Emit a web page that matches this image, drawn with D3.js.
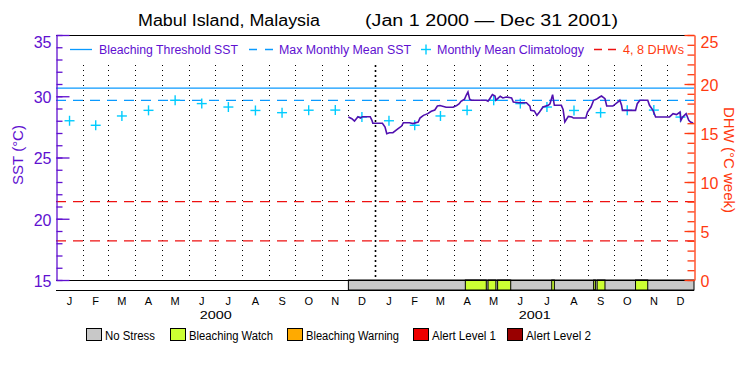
<!DOCTYPE html>
<html>
<head>
<meta charset="utf-8">
<script src="https://cdn.jsdelivr.net/npm/d3@7"></script>
<style>
  body { margin: 0; background: #fff; }
  text { font-family: "Liberation Sans", Arial, sans-serif; }
</style>
</head>
<body>
<svg id="chart" width="750" height="375"></svg>
<script>
// ---- data ----
const monthLabels = ["J","F","M","A","M","J","J","A","S","O","N","D"];
const yearLabels = ["2000","2001"];
const climMonthly = [28.0, 27.63, 28.39, 28.85, 29.67, 29.4, 29.12, 28.84, 28.66, 28.86, 28.87, 28.3];
const bleachThreshold = 30.67;
const maxMonthlyMean = 29.67;
const dhwLevels = [4, 8];
const sstTicks = [15, 20, 25, 30, 35];
const dhwTicks = [0, 5, 10, 15, 20, 25];

const sstDates = [
  "2000-12-01","2000-12-05","2000-12-08","2000-12-12","2000-12-15","2000-12-17","2000-12-26","2000-12-28","2000-12-29",
  "2001-01-09","2001-01-12","2001-01-14","2001-01-17","2001-01-21","2001-01-27","2001-01-31",
  "2001-02-02","2001-02-09","2001-02-13","2001-02-19","2001-02-21","2001-02-25",
  "2001-03-02","2001-03-06","2001-03-10","2001-03-13","2001-03-16","2001-03-23","2001-03-31",
  "2001-04-04","2001-04-07","2001-04-09","2001-04-13","2001-04-15","2001-04-17","2001-04-19","2001-04-21",
  "2001-05-08","2001-05-10","2001-05-12","2001-05-15","2001-05-18","2001-05-19","2001-05-21","2001-05-24","2001-05-27","2001-05-31",
  "2001-06-06","2001-06-08","2001-06-15","2001-06-23","2001-06-27","2001-06-28",
  "2001-07-02","2001-07-05","2001-07-08","2001-07-12","2001-07-18","2001-07-20","2001-07-23","2001-07-25",
  "2001-08-02","2001-08-04","2001-08-06","2001-08-10","2001-08-14","2001-08-16","2001-08-30",
  "2001-09-01","2001-09-05","2001-09-08","2001-09-11","2001-09-15","2001-09-17","2001-09-21","2001-09-23","2001-09-30",
  "2001-10-06","2001-10-08","2001-10-10","2001-10-11","2001-10-26","2001-10-28","2001-10-31",
  "2001-11-09","2001-11-11","2001-11-15","2001-11-18",
  "2001-12-04","2001-12-08","2001-12-12","2001-12-16","2001-12-17","2001-12-19","2001-12-21","2001-12-23","2001-12-26","2001-12-28","2001-12-31"
];
const sstValues = [
  28.31, 28.17, 27.98, 28.33, 28.22, 28.33, 28.33, 28.03, 27.79,
  27.79, 27.49, 26.94, 27.02, 27.02, 27.35, 27.57,
  27.84, 27.84, 27.77, 27.9, 28.22, 28.44,
  28.58, 28.77, 28.88, 29.2, 29.24, 29.1, 29.1,
  29.24, 29.39, 29.59, 29.75, 30.08, 30.35, 29.75, 29.67,
  29.67, 29.59, 29.8, 30.13, 30.02, 29.67, 29.8, 30.0, 29.86, 29.94,
  29.86, 29.53, 29.47, 29.47, 29.2, 28.85,
  28.8, 28.44, 28.71, 29.12, 29.26, 29.39, 30.13, 29.26,
  29.26, 28.93, 27.9, 28.36, 28.31, 28.22, 28.22,
  28.71, 29.12, 29.67, 29.75, 29.94, 30.02, 29.8, 29.2, 29.2,
  29.53, 29.67, 29.26, 28.85, 28.85, 29.39, 29.67,
  29.67, 29.26, 28.85, 28.31,
  28.31, 28.58, 28.5, 28.71, 28.03, 28.3, 28.44, 28.58, 28.03, 27.9, 27.82
];

// stress periods (level 0 = no stress, 1 = bleaching watch)
const stressStart = ["2000-12-01","2001-04-14","2001-05-10","2001-05-21","2001-07-22","2001-09-08","2001-09-12","2001-10-26"];
const stressEnd   = ["2002-01-01","2001-05-08","2001-05-19","2001-06-05","2001-07-25","2001-09-10","2001-09-21","2001-11-09"];
const stressLevel = [0, 1, 1, 1, 1, 1, 1, 1];
const stressNames = ["No Stress","Bleaching Watch","Bleaching Warning","Alert Level 1","Alert Level 2"];

// ---- styles ----
const stressColors = ["#c8c8c8","#ccff33","#ffaa00","#ee0000","#990000"];
const purple = "#6010d0";
const lineColor = "#5010b0";
const orange = "#ff3a10";
const blue = "#0a9aff";
const cyan = "#00ccff";

const svg = d3.select("#chart");
const parse = d3.utcParse("%Y-%m-%d");

const m = { left: 56, right: 694, top: 35, bottom: 280, bar: 290 };

const x = d3.scaleUtc()
  .domain([parse("2000-01-01"), parse("2002-01-01")])
  .range([m.left, m.right]);
const ySst = d3.scaleLinear().domain([15, 35]).range([m.bottom, m.top]);
const yDhw = d3.scaleLinear().domain([0, 25]).range([m.bottom, m.top]);

// title
svg.append("text").attr("x", 138).attr("y", 26).attr("font-size", 16)
  .attr("textLength", 182).attr("lengthAdjust", "spacingAndGlyphs")
  .text("Mabul Island, Malaysia");
svg.append("text").attr("x", 365).attr("y", 26).attr("font-size", 16)
  .attr("textLength", 253).attr("lengthAdjust", "spacingAndGlyphs")
  .text("(Jan 1 2000 \u2014 Dec 31 2001)");

// month boundaries (dotted)
const monthStarts = d3.utcMonths(parse("2000-02-01"), parse("2002-01-01"));
svg.append("g").selectAll("line").data(monthStarts).join("line")
  .attr("x1", d => Math.round(x(d)) + 0.5).attr("x2", d => Math.round(x(d)) + 0.5)
  .attr("y1", 65).attr("y2", m.bottom)
  .attr("stroke", "#000")
  .attr("stroke-width", d => d.getUTCMonth() === 0 ? 1.6 : 1)
  .attr("stroke-dasharray", d => d.getUTCMonth() === 0 ? "2,3" : "1,4");

// threshold lines
svg.append("line").attr("x1", m.left).attr("x2", m.right)
  .attr("y1", ySst(bleachThreshold)).attr("y2", ySst(bleachThreshold))
  .attr("stroke", blue).attr("stroke-width", 1.3);
svg.append("line").attr("x1", m.left).attr("x2", m.right)
  .attr("y1", ySst(maxMonthlyMean)).attr("y2", ySst(maxMonthlyMean))
  .attr("stroke", blue).attr("stroke-width", 1.3).attr("stroke-dasharray", "10,7");
svg.append("g").selectAll("line").data(dhwLevels).join("line")
  .attr("x1", m.left).attr("x2", m.right)
  .attr("y1", d => yDhw(d)).attr("y2", d => yDhw(d))
  .attr("stroke", "#ee1111").attr("stroke-width", 1.2).attr("stroke-dasharray", "10,7");

// monthly climatology crosses, both years
const climPoints = [];
[2000, 2001].forEach(yr => {
  climMonthly.forEach((v, i) => {
    const s = Date.UTC(yr, i, 1), e = Date.UTC(yr, i + 1, 1);
    climPoints.push({ date: new Date((s + e) / 2), v: v });
  });
});
const cross = svg.append("g").selectAll("g").data(climPoints).join("g")
  .attr("transform", d => `translate(${x(d.date)},${ySst(d.v)})`)
  .attr("stroke", cyan).attr("stroke-width", 1.4);
cross.append("line").attr("x1", -5).attr("x2", 5);
cross.append("line").attr("y1", -5).attr("y2", 5);

// SST line
const sst = sstDates.map((d, i) => ({ date: parse(d), v: sstValues[i] }));
svg.append("path").datum(sst)
  .attr("fill", "none").attr("stroke", lineColor).attr("stroke-width", 1.6)
  .attr("d", d3.line().x(d => x(d.date)).y(d => ySst(d.v)));

// stress bar
svg.append("g").selectAll("rect").data(stressStart).join("rect")
  .attr("x", (d, i) => x(parse(d)))
  .attr("width", (d, i) => x(parse(stressEnd[i])) - x(parse(d)))
  .attr("y", m.bottom).attr("height", m.bar - m.bottom)
  .attr("fill", (d, i) => stressColors[stressLevel[i]])
  .attr("stroke", "#000").attr("stroke-width", 1);

// frame
svg.append("line").attr("x1", m.left).attr("x2", m.right).attr("y1", m.top + 0.5).attr("y2", m.top + 0.5).attr("stroke", "#000");
svg.append("line").attr("x1", m.left).attr("x2", m.right).attr("y1", m.bottom + 0.5).attr("y2", m.bottom + 0.5).attr("stroke", "#000");
svg.append("line").attr("x1", m.left).attr("x2", m.right).attr("y1", m.bar + 0.5).attr("y2", m.bar + 0.5).attr("stroke", "#000");

// left axis (SST)
const leftMinor = svg.append("g").attr("transform", `translate(${m.left + 0.5},0)`)
  .call(d3.axisLeft(ySst).ticks(20).tickSizeInner(-6).tickSizeOuter(0).tickFormat(""));
leftMinor.select(".domain").remove();
const leftAxis = svg.append("g").attr("transform", `translate(${m.left + 0.5},0)`)
  .call(d3.axisLeft(ySst).tickValues(sstTicks).tickSizeInner(-13).tickSizeOuter(0).tickPadding(5));
[leftMinor, leftAxis].forEach(g => {
  g.selectAll("line").attr("stroke", purple).attr("stroke-width", 1.3);
  g.selectAll(".domain").attr("stroke", purple).attr("stroke-width", 1.3);
});
leftAxis.selectAll("text").attr("fill", purple).attr("font-size", 16)
  .attr("font-family", "Liberation Sans, Arial, sans-serif")
  .attr("dy", d => d === 35 ? "0.75em" : "0.4em");

// right axis (DHW)
const rightMinor = svg.append("g").attr("transform", `translate(${m.right + 0.5},0)`)
  .call(d3.axisRight(yDhw).ticks(25).tickSizeInner(-7).tickSizeOuter(0).tickFormat(""));
rightMinor.select(".domain").remove();
const rightAxis = svg.append("g").attr("transform", `translate(${m.right + 0.5},0)`)
  .call(d3.axisRight(yDhw).tickValues(dhwTicks).tickSizeInner(-10).tickSizeOuter(0).tickPadding(6));
[rightMinor, rightAxis].forEach(g => {
  g.selectAll("line").attr("stroke", orange).attr("stroke-width", 1.3);
  g.selectAll(".domain").attr("stroke", orange).attr("stroke-width", 1.3);
});
rightAxis.selectAll("text").attr("fill", orange).attr("font-size", 16)
  .attr("font-family", "Liberation Sans, Arial, sans-serif")
  .attr("dy", d => d === 25 ? "0.75em" : "0.4em");

// axis titles
svg.append("text").attr("transform", "translate(23,155) rotate(-90)")
  .attr("text-anchor", "middle").attr("font-size", 15).attr("fill", purple)
  .text("SST (\u00B0C)");
svg.append("text").attr("transform", "translate(724,160) rotate(90)")
  .attr("text-anchor", "middle").attr("font-size", 15).attr("fill", orange)
  .text("DHW (\u00B0C week)");

// month and year labels
const monthMids = [];
[2000, 2001].forEach(yr => monthLabels.forEach((lab, i) => {
  monthMids.push({ label: lab, date: new Date((Date.UTC(yr, i, 1) + Date.UTC(yr, i + 1, 1)) / 2) });
}));
svg.append("g").selectAll("text").data(monthMids).join("text")
  .attr("x", d => x(d.date)).attr("y", 305)
  .attr("text-anchor", "middle").attr("font-size", 11)
  .text(d => d.label);
svg.append("g").selectAll("text").data(yearLabels).join("text")
  .attr("x", (d, i) => x(new Date((Date.UTC(2000 + i, 0, 1) + Date.UTC(2001 + i, 0, 1)) / 2)))
  .attr("y", 318.5).attr("text-anchor", "middle").attr("font-size", 11)
  .attr("textLength", 32).attr("lengthAdjust", "spacingAndGlyphs")
  .text(d => d);

// top legend
const lg = svg.append("g").attr("font-size", 12);
lg.append("line").attr("x1", 70).attr("x2", 92).attr("y1", 49.5).attr("y2", 49.5).attr("stroke", blue).attr("stroke-width", 1.3);
lg.append("text").attr("x", 99).attr("y", 54).attr("fill", purple)
  .attr("textLength", 139).attr("lengthAdjust", "spacingAndGlyphs").text("Bleaching Threshold SST");
lg.append("line").attr("x1", 249).attr("x2", 273).attr("y1", 49.5).attr("y2", 49.5).attr("stroke", blue).attr("stroke-width", 1.3).attr("stroke-dasharray", "8,8");
lg.append("text").attr("x", 279).attr("y", 54).attr("fill", purple)
  .attr("textLength", 132).attr("lengthAdjust", "spacingAndGlyphs").text("Max Monthly Mean SST");
lg.append("line").attr("x1", 421).attr("x2", 431).attr("y1", 49.5).attr("y2", 49.5).attr("stroke", cyan).attr("stroke-width", 1.4);
lg.append("line").attr("x1", 426).attr("x2", 426).attr("y1", 44.5).attr("y2", 54.5).attr("stroke", cyan).attr("stroke-width", 1.4);
lg.append("text").attr("x", 437).attr("y", 54).attr("fill", purple)
  .attr("textLength", 147).attr("lengthAdjust", "spacingAndGlyphs").text("Monthly Mean Climatology");
lg.append("line").attr("x1", 594).attr("x2", 616).attr("y1", 49.5).attr("y2", 49.5).attr("stroke", "#ee1111").attr("stroke-width", 1.3).attr("stroke-dasharray", "8,6");
lg.append("text").attr("x", 623).attr("y", 54).attr("fill", orange)
  .attr("textLength", 61).attr("lengthAdjust", "spacingAndGlyphs").text("4, 8 DHWs");

// bottom legend
const boxX = [86, 170, 287, 413, 507];
const textLen = [50, 84, 93, 64, 65];
const bl = svg.append("g").selectAll("g").data(stressNames).join("g")
  .attr("transform", (d, i) => `translate(${boxX[i]},328)`);
bl.append("rect").attr("x", 0.5).attr("y", 0.5).attr("width", 15).attr("height", 12)
  .attr("fill", (d, i) => stressColors[i]).attr("stroke", "#000");
bl.append("text").attr("x", 19).attr("y", 12).attr("font-size", 12)
  .attr("textLength", (d, i) => textLen[i]).attr("lengthAdjust", "spacingAndGlyphs")
  .text(d => d);
</script>
</body>
</html>
